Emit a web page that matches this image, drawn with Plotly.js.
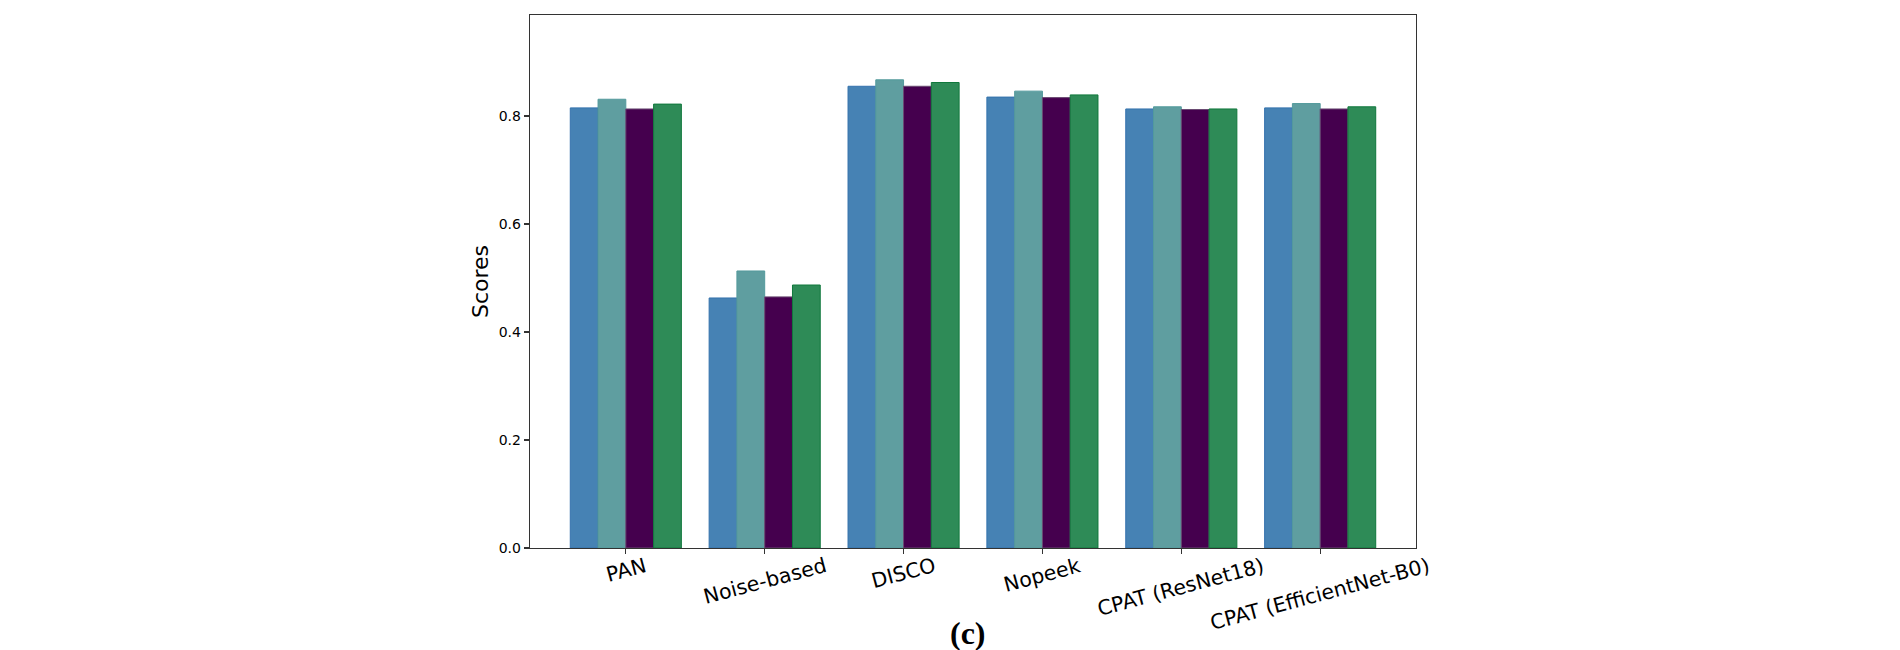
<!DOCTYPE html>
<html>
<head>
<meta charset="utf-8">
<script src="https://cdn.plot.ly/plotly-3.0.1.min.js"></script>
<style>html,body{margin:0;padding:0;background:#fff;}#chart{width:1900px;height:650px;}</style>
</head>
<body>
<div id="chart"></div>
<script>
// ---- data ----
const categories = ["PAN", "Noise-based", "DISCO", "Nopeek", "CPAT (ResNet18)", "CPAT (EfficientNet-B0)"];
const seriesNames = ["Accuracy", "Precision", "Recall", "F1-score"];
const accuracy  = [0.815, 0.463, 0.855, 0.835, 0.813, 0.815];
const precision = [0.831, 0.513, 0.867, 0.846, 0.817, 0.823];
const recall    = [0.813, 0.465, 0.855, 0.834, 0.812, 0.813];
const f1score   = [0.822, 0.487, 0.862, 0.839, 0.813, 0.817];
const yTickVals = [0.0, 0.2, 0.4, 0.6, 0.8];
const yTickText = ["0.0", "0.2", "0.4", "0.6", "0.8"];
const panelLabel = "(c)";
const yTitle = "Scores";

// ---- styles ----
const fills = ["#4682B4", "#5F9EA0", "#45004e", "#2E8B57"];
const edges = ["#3472ad", "#539a9c", "#6a4a72", "#10783c"];
const values = [accuracy, precision, recall, f1score];

const traces = values.map((v, i) => ({
  type: "bar",
  name: seriesNames[i],
  x: categories,
  y: v,
  marker: {color: fills[i], line: {color: edges[i], width: 1}},
  hoverinfo: "x+y+name"
}));

const annotations = categories.map(c => ({
  x: c, xref: "x", y: 0, yref: "paper",
  yanchor: "top", xanchor: "center",
  yshift: -3,
  text: c, showarrow: false, textangle: -15,
  font: {family: "DejaVu Sans", size: 20.5, color: "#000"}
}));
annotations.push({
  x: 0.494, xref: "paper", y: -0.16, yref: "paper",
  xanchor: "center", yanchor: "middle",
  text: "<b>" + panelLabel + "</b>", showarrow: false,
  font: {family: "Liberation Serif", size: 32, color: "#000"}
});

const layout = {
  width: 1900, height: 650,
  margin: {l: 530, r: 484, t: 15, b: 102, pad: 0},
  paper_bgcolor: "#fff", plot_bgcolor: "#fff",
  barmode: "group", bargap: 0.2, bargroupgap: 0,
  showlegend: false,
  font: {family: "DejaVu Sans", color: "#000"},
  xaxis: {
    type: "category",
    range: [-0.69, 5.69],
    showgrid: false, zeroline: false,
    showline: true, mirror: true, linecolor: "#333", linewidth: 1.3,
    ticks: "outside", ticklen: 5, tickwidth: 1.2, tickcolor: "#333",
    showticklabels: false
  },
  yaxis: {
    range: [0, 0.987],
    tickvals: yTickVals, ticktext: yTickText,
    showgrid: false, zeroline: false,
    showline: true, mirror: true, linecolor: "#333", linewidth: 1.3,
    ticks: "outside", ticklen: 5, tickwidth: 1.2, tickcolor: "#333",
    tickfont: {family: "DejaVu Sans", size: 14, color: "#000"},
    title: {text: yTitle, font: {family: "DejaVu Sans", size: 22, color: "#000"}, standoff: 4}
  },
  annotations: annotations
};

Plotly.newPlot("chart", traces, layout, {displayModeBar: false, staticPlot: true});
</script>
</body>
</html>
